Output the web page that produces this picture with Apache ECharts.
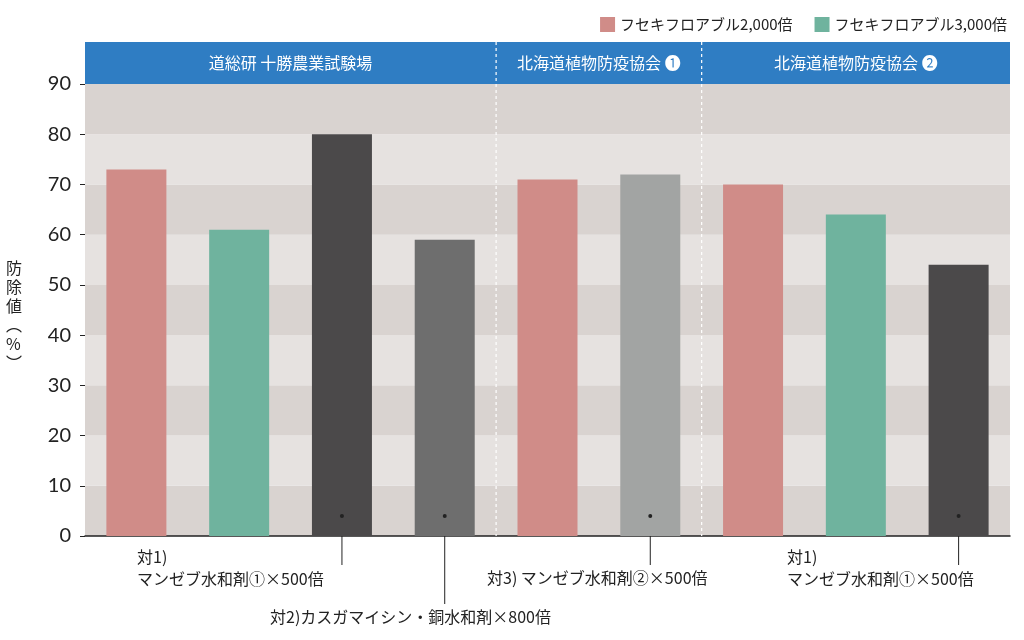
<!DOCTYPE html>
<html><head><meta charset="utf-8">
<script src="https://cdn.jsdelivr.net/npm/echarts@6/dist/echarts.min.js"></script>
<style>html,body{margin:0;background:#fff}#c{width:1024px;height:640px}</style>
</head><body><div id="c"></div>
<script>
const categories = ['a1','a2','a3','a4','b1','b2','c1','c2','c3'];
const s2000 = [73,null,null,null,71,null,70,null,null];
const s3000 = [null,61,null,null,null,null,null,64,null];
const control = [null,null,80,59,null,72,null,null,54];
const controlColors = [null,null,'#4b494a','#6e6e6e',null,'#a2a4a3',null,null,'#4b494a'];
const yTicks = [0,10,20,30,40,50,60,70,80,90];
const groups = [['道総研 十勝農業試験場',0,3],['北海道植物防疫協会 ❶',4,5],['北海道植物防疫協会 ❷',6,8]];
const notes = [
  {idx:2, text:'対1)\nマンゼブ水和剤①×500倍', tx:137, ty:546, ly:565},
  {idx:3, text:'対2)カスガマイシン・銅水和剤×800倍', tx:270, ty:606, ly:604},
  {idx:5, text:'対3) マンゼブ水和剤②×500倍', tx:487, ty:567, ly:565},
  {idx:8, text:'対1)\nマンゼブ水和剤①×500倍', tx:787, ty:546, ly:565}
];
const F = '"Noto Sans CJK JP","Noto Sans",sans-serif';
const chart = echarts.init(document.getElementById('c'));
chart.setOption({
  animation:false,
  textStyle:{fontFamily:F},
  legend:{right:12,top:12,itemWidth:15,itemHeight:15,itemGap:22,icon:'rect',
    textStyle:{fontSize:15,color:'#222',fontFamily:F},
    data:['フセキフロアブル2,000倍','フセキフロアブル3,000倍']},
  grid:{left:85,right:14,top:84,bottom:104},
  xAxis:{type:'category',data:categories,axisLabel:{show:false},axisTick:{show:false},
    axisLine:{lineStyle:{color:'#222',width:1.5}}},
  yAxis:{type:'value',min:0,max:90,interval:10,
    axisLabel:{fontSize:20,color:'#222',margin:14,fontFamily:'Lato, sans-serif'},
    axisLine:{show:false},axisTick:{show:true,length:5,lineStyle:{color:'#222'}},
    splitLine:{show:false},
    splitArea:{show:true,areaStyle:{color:['#d9d3d0','#e6e2e0']}}},
  series:[
    {name:'フセキフロアブル2,000倍',type:'bar',stack:'a',barWidth:60,data:s2000,itemStyle:{color:'#d08c88'}},
    {name:'フセキフロアブル3,000倍',type:'bar',stack:'a',barWidth:60,data:s3000,itemStyle:{color:'#6fb39e'}},
    {name:'対照',type:'bar',stack:'a',barWidth:60,
      data:control.map((v,i)=>v==null?null:{value:v,itemStyle:{color:controlColors[i]}})}
  ]
});
const px = i => chart.convertToPixel({xAxisIndex:0},categories[i]);
const py = v => chart.convertToPixel({yAxisIndex:0},v);
const hTop = 42, hb = py(90), base = py(0);
const gl = 85, gr = 1010;
const g = [];
g.push({type:'rect',shape:{x:gl,y:hTop,width:gr-gl,height:hb-hTop},style:{fill:'#2f7dc3'}});
const seps = [(px(3)+px(4))/2,(px(5)+px(6))/2];
seps.forEach(x=>g.push({type:'line',shape:{x1:x,y1:hTop,x2:x,y2:base},style:{stroke:'#fff',lineWidth:1.2,lineDash:[3,3]},z:10}));
const bounds=[gl,seps[0],seps[1],gr];
groups.forEach((grp,k)=>g.push({type:'text',x:(bounds[k]+bounds[k+1])/2,y:(hTop+hb)/2,
  style:{text:grp[0],fill:'#fff',font:'16px '+F,textAlign:'center',textVerticalAlign:'middle'},z:11}));
notes.forEach(n=>{
  const x=px(n.idx), y=py(4);
  g.push({type:'circle',shape:{cx:x,cy:y,r:2},style:{fill:'#222'},z:12});
  g.push({type:'line',shape:{x1:x,y1:base,x2:x,y2:n.ly},style:{stroke:'#222',lineWidth:1},z:12});
  g.push({type:'text',x:n.tx,y:n.ty,style:{text:n.text,fill:'#222',font:'16px '+F,lineHeight:22},z:12});
});
g.push({type:'text',x:6,y:258,style:{text:'防\n除\n値\n︵\n%\n︶',fill:'#222',font:'16px '+F,lineHeight:19,textAlign:'left'}});
chart.setOption({graphic:g});
</script></body></html>
